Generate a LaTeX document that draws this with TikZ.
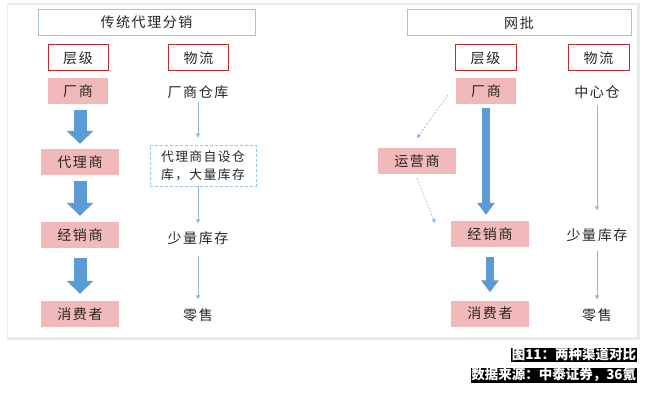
\documentclass[tikz,border=0pt]{standalone}
\usepackage{fontspec}
\setmainfont{Noto Sans CJK SC}[LetterSpace=11]
\newfontfamily\capfont{Noto Sans CJK SC}
\usetikzlibrary{arrows.meta}
\definecolor{pinkfill}{HTML}{F2B9BA}
\definecolor{redline}{HTML}{C8282D}
\definecolor{bluearrow}{HTML}{5B9BD5}
\definecolor{lightblue}{HTML}{9DC3E6}
\definecolor{thinblue}{HTML}{8DB4E2}
\definecolor{txt}{HTML}{262626}
\tikzset{
  every node/.style={text=txt, font=\fontsize{14}{16}\selectfont},
  titlebox/.style={draw=lightblue, line width=1pt, fill=white, minimum height=26pt},
  headbox/.style={draw=redline, line width=1pt, fill=white, minimum width=60pt, minimum height=26pt},
  pinkbox/.style={fill=pinkfill, minimum height=26pt},
  plain/.style={inner sep=1pt},
  dashbox/.style={draw=lightblue, line width=0.8pt, dash pattern=on 3pt off 2pt, align=center, minimum width=106pt, minimum height=41pt, inner sep=1pt, font=\fontsize{12.8}{18}\selectfont},
  bigarrow/.style={bluearrow, line width=13pt, -{Triangle[length=13pt,width=26pt]}},
  midarrow/.style={bluearrow, line width=8pt, -{Triangle[length=12pt,width=17pt]}},
  thin/.style={thinblue, line width=0.6pt, -{Triangle[length=4pt,width=4pt]}},
  thindash/.style={thinblue, line width=0.6pt, dash pattern=on 2pt off 1.5pt, -{Triangle[length=4pt,width=4pt]}},
  caption/.style={fill=black, text=white, inner sep=0.6pt, anchor=north east, font=\capfont\bfseries\fontsize{13.5}{14}\selectfont}
}
\begin{document}
\begin{tikzpicture}[x=1pt,y=-1pt]
\useasboundingbox (0,0) rectangle (645,401);
% panel
\fill[black!8] (6.5,3.5) rectangle (639.5,339.5);
\fill[white] (8,5) rectangle (637,337);

% ---------- left: traditional ----------
\node[titlebox, minimum width=217pt] (ltitle) at (146.5,22.5) {传统代理分销};
\node[headbox] (lcj) at (78,58) {层级};
\node[headbox] (lwl) at (198.5,58) {物流};
\node[pinkbox, minimum width=60pt] (lfac) at (78,91.5) {厂商};
\node[pinkbox, minimum width=78pt] (lage) at (80,162) {代理商};
\node[pinkbox, minimum width=78pt] (ldis) at (80,235) {经销商};
\node[pinkbox, minimum width=78pt] (lcon) at (80,314) {消费者};
\draw[bigarrow, shorten <=5pt, shorten >=5pt] (lfac.south -| lage.south) -- (lage.north);
\draw[bigarrow, shorten <=6pt, shorten >=6pt] (lage.south) -- (ldis.north);
\draw[bigarrow, shorten <=10pt, shorten >=7pt] (ldis.south) -- (lcon.north);

\node[plain] (lwh) at (198,92) {厂商仓库};
\node[dashbox] (lagw) at (203,165.5) {代理商自设仓\\库，大量库存};
\node[plain] (lsm) at (198,238) {少量库存};
\node[plain] (lret) at (198,315) {零售};
\draw[thin, shorten <=2pt, shorten >=7pt] (lwh.south) -- (lagw.north -| lwh.south);
\draw[thin, shorten <=0pt, shorten >=7pt] (lagw.south -| lwh.south) -- (lsm.north);
\draw[thin, shorten <=10pt, shorten >=8pt] (lsm.south) -- (lret.north);

% ---------- right: online wholesale ----------
\node[titlebox, minimum width=224pt] (rtitle) at (519,23) {网批};
\node[headbox, minimum width=61pt] (rcj) at (485.5,58) {层级};
\node[headbox, minimum width=61pt] (rwl) at (598.5,58) {物流};
\node[pinkbox, minimum width=60pt] (rfac) at (486,91.5) {厂商};
\node[pinkbox, minimum width=78pt] (ryun) at (417,161) {运营商};
\node[pinkbox, minimum width=78pt] (rdis) at (490,234) {经销商};
\node[pinkbox, minimum width=78pt] (rcon) at (490,313.5) {消费者};
\draw[midarrow, shorten <=3pt, shorten >=6pt] (rfac.south) -- (rfac.south |- rdis.north);
\draw[midarrow, shorten <=10pt, shorten >=8pt] (rdis.south) -- (rcon.north);

\coordinate (ya) at (448,95);
\coordinate (yb) at (417,138);
\coordinate (yc) at (417,178);
\coordinate (yd) at (435,223);
\draw[thindash] (ya) -- (yb);
\draw[thindash] (yc) -- (yd);

\node[plain] (rwh) at (597,92) {中心仓};
\node[plain] (rsm) at (597,235) {少量库存};
\node[plain] (rret) at (597,315) {零售};
\draw[thin, shorten <=5pt, shorten >=17pt] (rwh.south) -- (rsm.north);
\draw[thin, shorten <=8pt, shorten >=8pt] (rsm.south) -- (rret.north);

% ---------- captions ----------
\node[caption] (cap1) at (637,347.5) {图11：两种渠道对比};
\node[caption] (cap2) at (637,367.5) {数据来源：中泰证券，36氪};
\end{tikzpicture}
\end{document}
